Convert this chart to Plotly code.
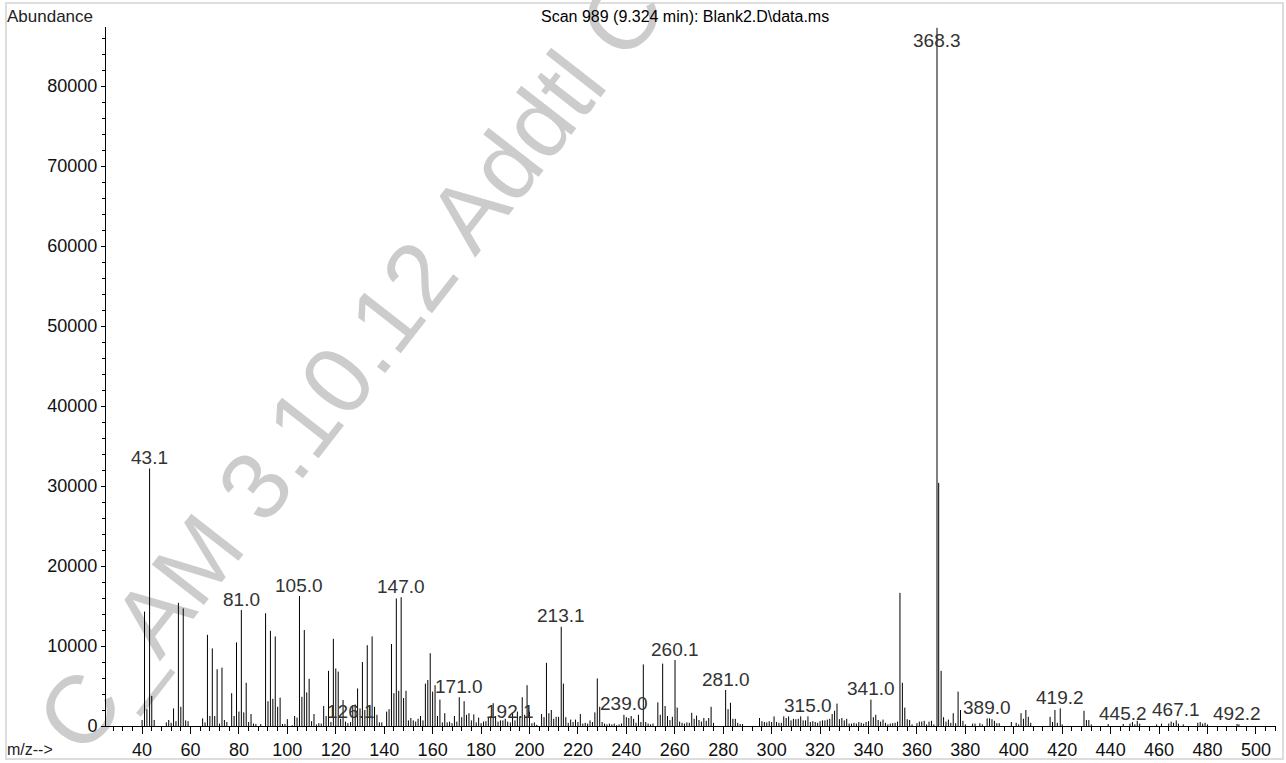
import plotly.graph_objects as go

# ---- data (m/z, abundance) ----
mz = [40, 41, 42, 43.1, 44, 45, 50, 51, 52, 53, 54, 55, 56, 57, 58, 59,
      65, 66, 67, 68, 69, 70, 71, 72, 73, 74, 75, 77, 78, 79, 80, 81.0, 82, 83, 84, 85, 86, 87, 89,
      91, 92, 93, 94, 95, 96, 97, 98, 99, 100, 102, 103, 104, 105.0, 106, 107, 108, 109, 110, 111,
      112, 113, 114, 115, 116, 117, 118, 119, 120, 121, 122, 123, 124, 125, 126.1, 127, 128, 129,
      130, 131, 132, 133, 134, 135, 136, 137, 138, 139, 141, 142, 143, 144, 145, 146, 147.0, 148,
      149, 150, 151, 152, 153, 154, 155, 156, 157, 158, 159, 160, 161, 162, 163, 164, 165, 166,
      167, 168, 169, 170, 171.0, 172, 173, 174, 175, 176, 177, 178, 179, 180, 181, 182, 183, 184,
      185, 186, 187, 188, 189, 190, 191, 192.1, 193, 194, 195, 196, 197, 198, 199, 200, 201, 202,
      203, 205, 206, 207, 208, 209, 210, 211, 212, 213.1, 214, 215, 216, 217, 218, 219, 220, 221,
      222, 223, 224, 225, 226, 227, 228, 229, 230, 231, 232, 233, 234, 235, 236, 237, 238, 239.0,
      240, 241, 242, 243, 244, 245, 246, 247, 248, 249, 250, 251, 253, 254, 255, 256, 257, 258,
      259, 260.1, 261, 262, 263, 264, 265, 266, 267, 268, 269, 270, 271, 272, 273, 274, 275, 276,
      281.0, 282, 283, 284, 285, 286, 287, 288, 295, 296, 297, 298, 299, 300, 301, 302, 303, 304,
      305, 306, 307, 308, 309, 310, 311, 312, 313, 314, 315.0, 316, 317, 318, 319, 320, 321, 322,
      323, 324, 325, 326, 327, 328, 329, 330, 331, 332, 333, 334, 335, 336, 337, 338, 339, 340,
      341.0, 342, 343, 344, 345, 346, 347, 348, 349, 350, 351, 352, 353, 354, 355, 356, 357, 358,
      360, 361, 362, 363, 364, 365, 366, 367, 368.3, 369, 370, 371, 372, 373, 374, 375, 376, 377,
      378, 379, 380, 383, 384, 386, 387, 389.0, 390, 391, 392, 393, 394, 399, 401, 402, 403, 404,
      405, 406, 407, 415, 416, 417, 418, 419.2, 420, 429, 430, 431, 432, 439, 445.2, 448, 449, 450,
      451, 452, 459, 461, 464, 465, 466, 467.1, 468, 470, 476, 477, 478, 479, 480, 492.2, 493]

abundance = [750, 14300, 2100, 32200, 3750, 750, 450, 750, 400, 2200, 600, 15400, 2400, 14700, 700, 600,
             950, 450, 11400, 1250, 9700, 1250, 7100, 300, 7300, 750, 500, 4100, 1250, 10450, 1800, 14500, 1700, 5400, 500, 1500, 300, 250, 250,
             14100, 3100, 11900, 3400, 11200, 2400, 3550, 250, 250, 850, 100, 1250, 1050, 16250, 3650, 12000, 4200, 5900, 600, 1500,
             200, 350, 300, 2500, 1250, 6900, 500, 10900, 7200, 6800, 900, 3250, 550, 350, 500, 2600, 2700, 4700,
             2200, 8000, 2000, 10100, 2600, 11200, 2400, 1400, 450, 450, 1800, 2100, 10250, 4100, 15950, 4400, 16100, 3500,
             4400, 700, 1000, 700, 550, 900, 1250, 700, 5300, 5750, 9100, 4300, 5100, 1250, 3300, 450, 1600, 450,
             550, 350, 1250, 550, 3600, 1100, 3100, 1400, 1600, 700, 1450, 450, 1050, 350, 550, 600, 1100, 1250,
             2850, 1250, 550, 700, 700, 900, 550, 450, 1600, 700, 1800, 1150, 3600, 1400, 5100, 1800, 350, 450,
             150, 1500, 1100, 7900, 1600, 2000, 900, 1150, 1150, 12400, 5300, 1100, 400, 800, 500, 800, 500, 1500,
             300, 400, 300, 700, 500, 1700, 5950, 2400, 500, 300, 200, 300, 200, 300, 100, 200, 300, 1400,
             1100, 1000, 1250, 900, 400, 1400, 500, 7700, 500, 300, 200, 300, 2950, 1400, 7800, 2500, 1250, 750,
             1150, 8250, 2300, 550, 400, 300, 450, 400, 1650, 900, 1300, 750, 550, 1000, 650, 1000, 2400, 400,
             4500, 2100, 2900, 900, 900, 400, 250, 250, 1000, 600, 500, 450, 600, 500, 1200, 500, 400, 400,
             1200, 1000, 1200, 700, 900, 850, 900, 1200, 700, 700, 1200, 500, 600, 500, 400, 600, 700, 700,
             800, 900, 1500, 1900, 2800, 850, 1000, 700, 900, 300, 300, 400, 300, 500, 400, 300, 500, 600,
             3300, 1100, 1400, 750, 550, 800, 400, 200, 300, 350, 400, 550, 16650, 5400, 2300, 850, 750, 200,
             350, 550, 550, 650, 200, 550, 650, 200, 87300, 30400, 6900, 1100, 550, 800, 400, 1600, 350, 4300,
             2000, 650, 200, 300, 300, 350, 200, 950, 950, 850, 650, 350, 350, 500, 400, 200, 1600, 900,
             2000, 1150, 400, 1150, 500, 2000, 400, 2200, 200, 1900, 750, 750, 200, 250, 250, 300, 500, 200,
             650, 300, 200, 300, 300, 550, 400, 700, 300, 200, 400, 500, 300, 400, 200, 250, 200]

labelled_mz = [43.1, 81.0, 105.0, 126.1, 147.0, 171.0, 192.1, 213.1, 239.0, 260.1, 281.0,
               315.0, 341.0, 368.3, 389.0, 419.2, 445.2, 467.1, 492.2]

x_ticks = list(range(40, 501, 20))
y_ticks = list(range(0, 80001, 10000))

title_text = "Scan 989 (9.324 min): Blank2.D\\data.ms"
watermark_text = "C_AM 3.10.12 Addtl C"

Y_MAX = 87400
FONT = "Liberation Sans, Arial, Helvetica, sans-serif"

# stick spectrum built from the data lists
xs, ys = [], []
for m, a in zip(mz, abundance):
    xs += [m, m, None]
    ys += [0, a, None]

fig = go.Figure()
fig.add_trace(go.Scatter(x=xs, y=ys, mode="lines",
                         line=dict(color="#000000", width=1),
                         hoverinfo="skip", showlegend=False))

annotations = []
lookup = dict(zip(mz, abundance))
for m in labelled_mz:
    a = lookup[m]
    if a >= Y_MAX * 0.97:
        annotations.append(dict(x=m, y=Y_MAX, xref="x", yref="y", text=f"{m:.1f}",
                                showarrow=False, yanchor="top", yshift=-1,
                                font=dict(size=19, color="#333333", family=FONT)))
    else:
        annotations.append(dict(x=m, y=a, xref="x", yref="y", text=f"{m:.1f}",
                                showarrow=False, yanchor="middle", yshift=11,
                                font=dict(size=19, color="#333333", family=FONT)))

L, R, T, B = 106, 10, 27, 37
W, H = 1286, 763
PW, PH = W - L - R, H - T - B

def px(xp):
    return (xp - L) / PW

def py(yp):
    return (H - B - yp) / PH

annotations += [
    dict(x=px(5), y=py(16), xref="paper", yref="paper", text="Abundance", showarrow=False,
         xanchor="left", yanchor="middle", font=dict(size=17, color="#222222", family=FONT)),
    dict(x=px(685), y=py(16), xref="paper", yref="paper", text=title_text, showarrow=False,
         xanchor="center", yanchor="middle", font=dict(size=16, color="#000000", family=FONT)),
    dict(x=px(5), y=py(749), xref="paper", yref="paper", text="m/z-->", showarrow=False,
         xanchor="left", yanchor="middle", font=dict(size=16, color="#222222", family=FONT)),
]

shapes = [
    dict(type="rect", xref="paper", yref="paper", x0=px(6), x1=px(1283), y0=py(759), y1=py(3),
         line=dict(color="#dddddd", width=2), layer="below"),
    dict(type="line", xref="paper", yref="paper", x0=px(335), x1=px(351), y0=py(358), y1=py(358),
         line=dict(color="rgba(0,0,0,0)", width=1), layer="below",
         label=dict(text=watermark_text, textangle=-52, textposition="middle",
                    xanchor="center", yanchor="middle",
                    font=dict(size=96, color="#cccccc", family=FONT))),
]

fig.update_layout(
    width=W, height=H,
    margin=dict(l=L, r=R, t=T, b=B, autoexpand=False),
    paper_bgcolor="white", plot_bgcolor="white",
    showlegend=False,
    annotations=annotations,
    shapes=shapes,
    xaxis=dict(range=[25.1, 508.3], tickvals=x_ticks, ticks="outside", ticklen=7,
               tickcolor="black", showline=True, linecolor="black", linewidth=1,
               showgrid=False, zeroline=False, automargin=False,
               minor=dict(dtick=4, tick0=0, ticks="outside", ticklen=4, tickcolor="black", showgrid=False),
               tickfont=dict(size=18, color="#111111", family=FONT)),
    yaxis=dict(range=[0, Y_MAX], tickvals=y_ticks, ticks="outside", ticklen=4,
               tickcolor="black", showline=True, linecolor="black", linewidth=1,
               showgrid=False, zeroline=False, tickformat="d", automargin=False,
               minor=dict(dtick=2000, tick0=0, ticks="outside", ticklen=3, tickcolor="black", showgrid=False),
               tickfont=dict(size=18, color="#111111", family=FONT)),
)

fig.write_html("out.html", config={"displayModeBar": False},
               post_script="document.body.style.margin='0';document.body.style.overflow='hidden';")
